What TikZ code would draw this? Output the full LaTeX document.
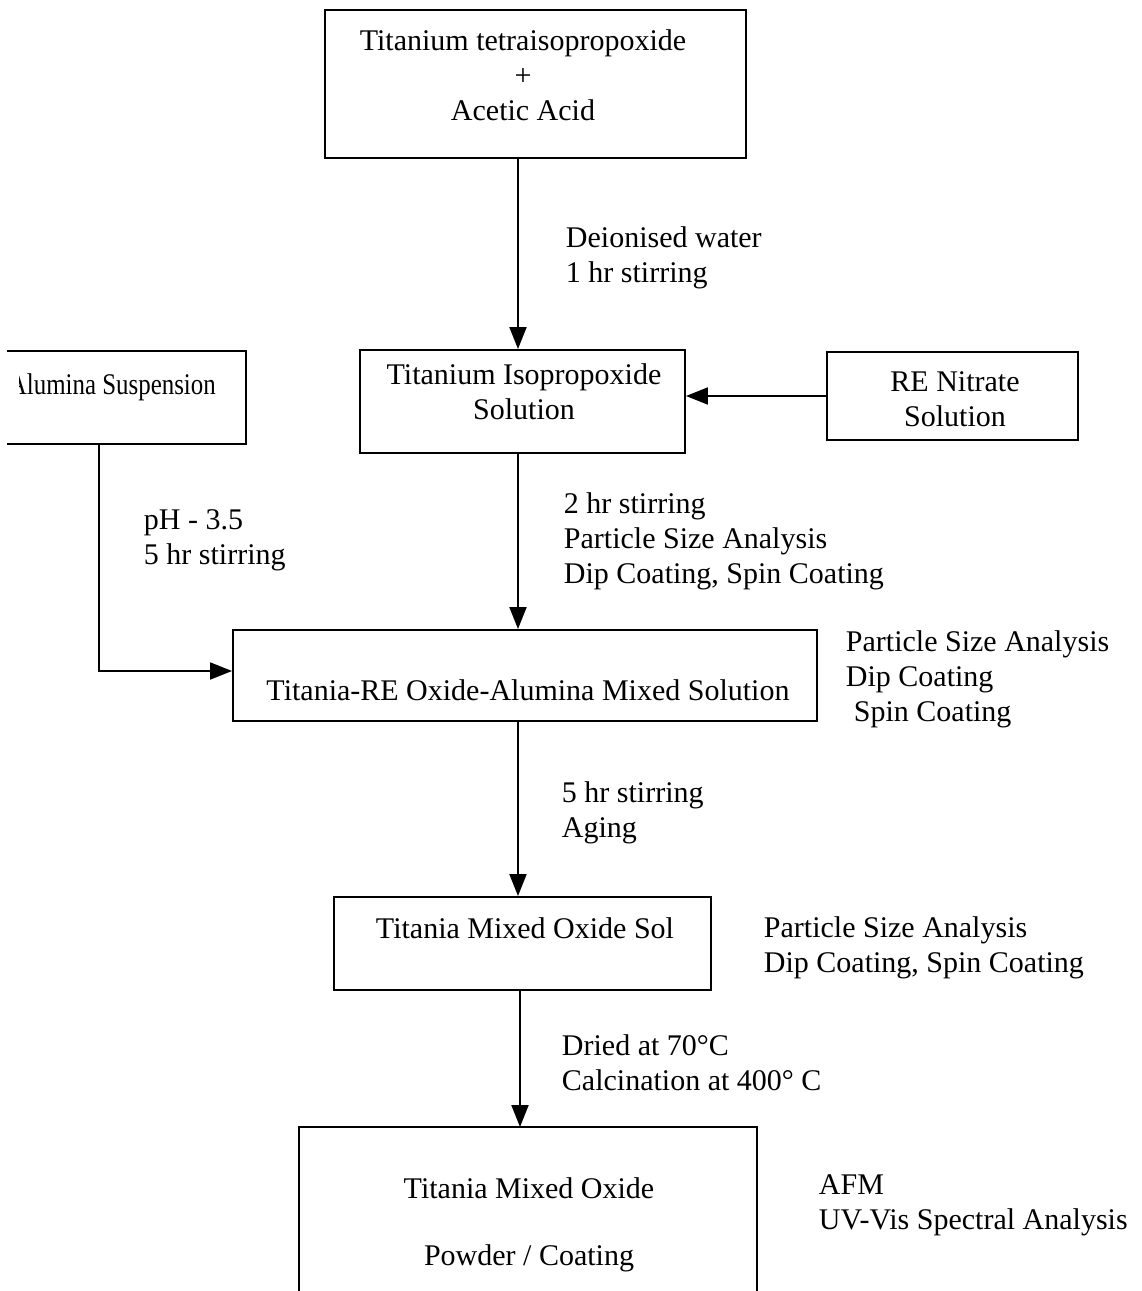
\documentclass[tikz,border=0pt]{standalone}
\usepackage{fontspec}
\setmainfont{Liberation Serif}
\usetikzlibrary{arrows.meta}
\begin{document}
\begin{tikzpicture}[x=1pt,y=-1pt,
  line width=1.9pt,
  frame/.style={draw, line width=1.9pt, inner sep=0pt},
  openframe/.style={inner sep=0pt},
  txt/.style={inner sep=0pt, font=\fontsize{30}{35}\selectfont},
  ctxt/.style={txt, anchor=north, align=center},
  ltxt/.style={txt, anchor=north west, align=left},
  arr/.style={-{Triangle[length=22pt,width=17pt]}, line width=1.9pt}]
\useasboundingbox (0,0) rectangle (1142,1291);

% process boxes
\node[frame, minimum width=421pt, minimum height=148pt] (top) at (535.5,84) {};
\node[frame, minimum width=325pt, minimum height=103pt] (sol) at (522.5,401.5) {};
\node[frame, minimum width=251pt, minimum height=88pt] (re) at (952.5,396) {};
\node[openframe, minimum width=237pt, minimum height=91pt] (alu) at (126.5,397.5) {};
\node[frame, minimum width=584pt, minimum height=91pt] (mix) at (525,675.5) {};
\node[frame, minimum width=377pt, minimum height=93pt] (sol2) at (522.5,943.5) {};
\node[openframe, minimum width=456pt, minimum height=172pt] (final) at (528,1214) {};

% boxes with open sides
\draw (alu.north west) -- (alu.north east) -- (alu.south east) -- (alu.south west);
\draw (final.south west) -- (final.north west) -- (final.north east) -- (final.south east);

% box texts
\node[ctxt] (top-t) at (523,29) {Titanium tetraisopropoxide\\+\\Acetic Acid};
\node[ctxt] (sol-t) at (524,363) {Titanium Isopropoxide\\Solution};
\node[ctxt] (re-t) at (955,371) {RE Nitrate\\Solution};
\begin{scope}
  \clip (19,340) rectangle (250,450);
  \node[ltxt] (alu-t) at (8,373) {\scalebox{0.83}[1]{Alumina Suspension}};
\end{scope}
\node[ctxt] (mix-t) at (528,679) {Titania-RE Oxide-Alumina Mixed Solution};
\node[ctxt] (sol2-t) at (525,917) {Titania Mixed Oxide Sol};
\node[ctxt] (final-t1) at (529,1177) {Titania Mixed Oxide};
\node[ctxt] (final-t2) at (529,1244) {Powder / Coating};

% connector guides
\coordinate (xa) at (518,0);
\coordinate (xb) at (520,0);
\coordinate (xc) at (99,0);
\coordinate (ya) at (0,671);

% connectors
\draw[arr] (top.south -| xa) -- (sol.north -| xa);
\draw[arr] (re.west) -- (re.west -| sol.east);
\draw[arr] (alu.south -| xc) -- (xc |- ya) -- (mix.west |- ya);
\draw[arr] (sol.south -| xa) -- (mix.north -| xa);
\draw[arr] (mix.south -| xa) -- (sol2.north -| xa);
\draw[arr] (sol2.south -| xb) -- (final.north -| xb);

% step conditions
\node[ltxt] (c1) at (565,226) {Deionised water\\1 hr stirring};
\node[ltxt] (c2) at (143,509) {pH - 3.5\\5 hr stirring};
\node[ltxt] (c3) at (563,492) {2 hr stirring\\Particle Size Analysis\\Dip Coating, Spin Coating};
\node[ltxt] (c4) at (561,781) {5 hr stirring\\Aging};
\node[ltxt] (c5) at (561,1034) {Dried at 70°C\\Calcination at 400° C};

% characterisation notes
\node[ltxt] (n1) at (845,630) {Particle Size Analysis\\Dip Coating\\\hspace*{8pt}Spin Coating};
\node[ltxt] (n2) at (763,916) {Particle Size Analysis\\Dip Coating, Spin Coating};
\node[ltxt] (n3) at (818,1174) {AFM\\UV-Vis Spectral Analysis};
\end{tikzpicture}
\end{document}
